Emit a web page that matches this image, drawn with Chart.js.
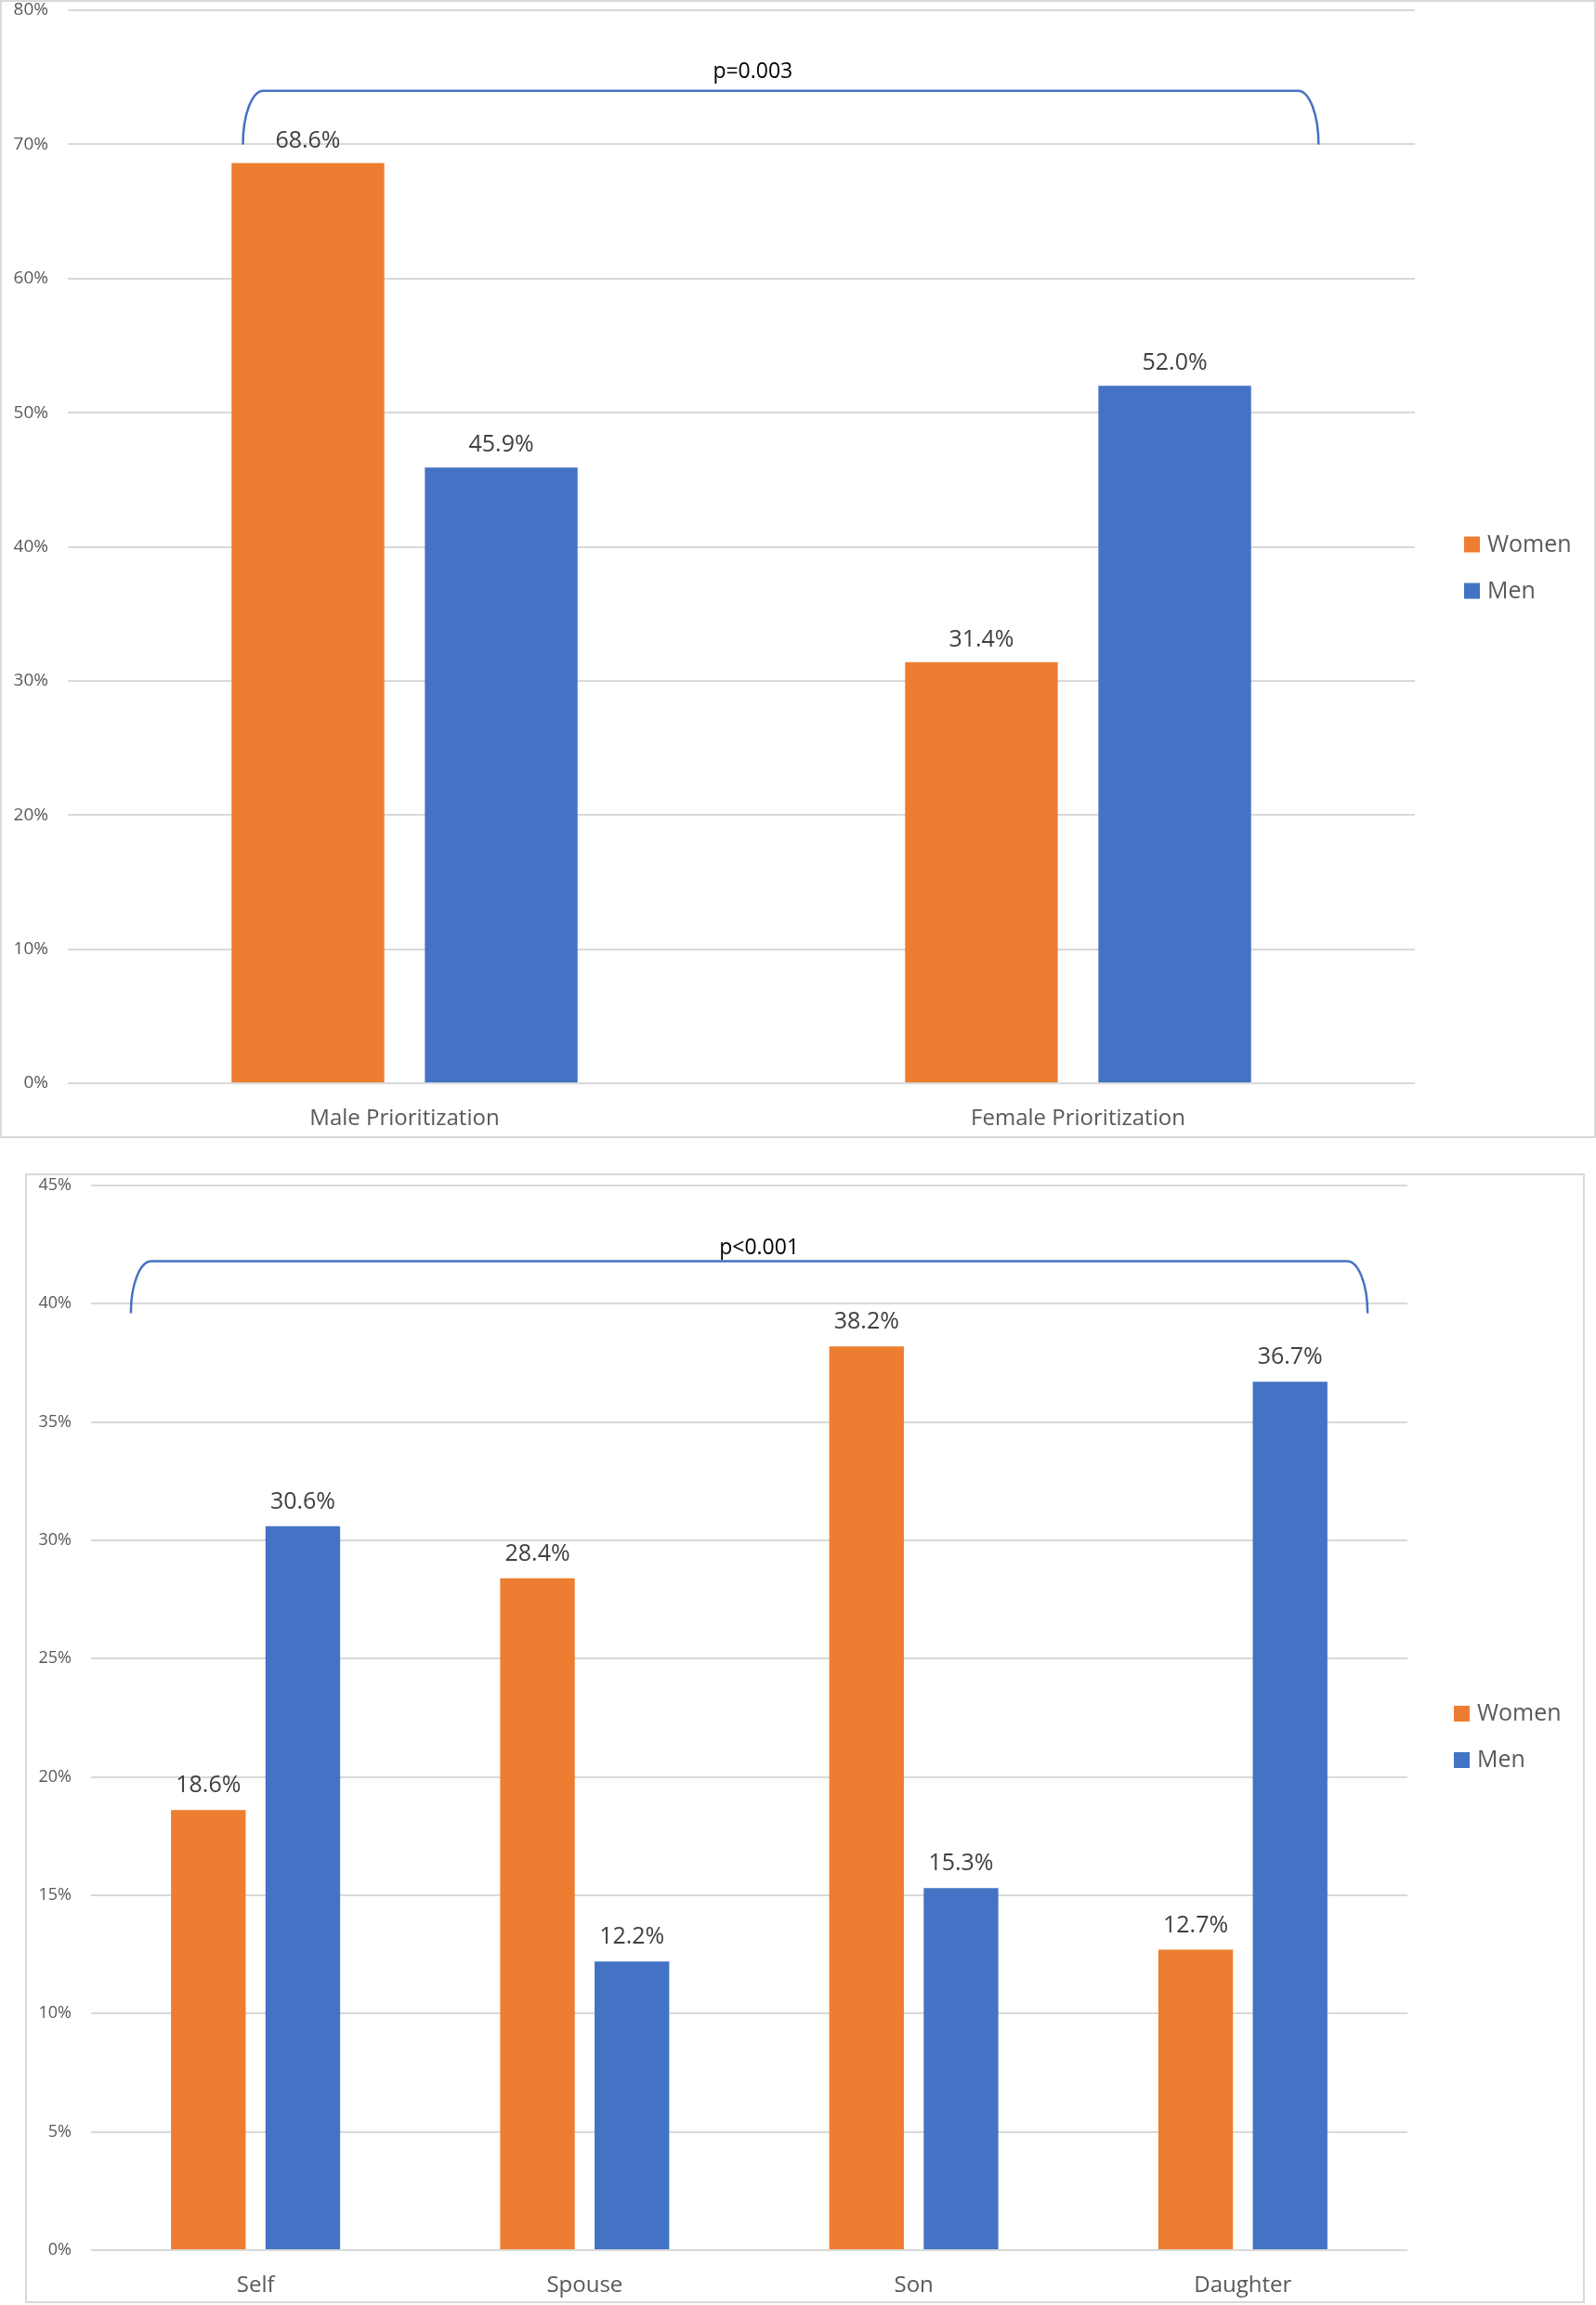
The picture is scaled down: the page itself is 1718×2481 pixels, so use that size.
<!DOCTYPE html>
<html>
<head>
<meta charset="utf-8">
<script src="https://cdn.jsdelivr.net/npm/chart.js@4.4.1/dist/chart.umd.min.js"></script>
<style>
body { margin: 0; background: #fff; width: 1718px; height: 2481px; position: relative; overflow: hidden; }
.frame { position: absolute; border: 2px solid #d9d9d9; box-sizing: border-box; }
canvas { position: absolute; }
</style>
</head>
<body>
<div class="frame" style="left:0;top:0;width:1718px;height:1225px"></div>
<canvas id="prioritization" width="1718" height="1225" style="left:0;top:0"></canvas>
<div class="frame" style="left:27px;top:1263px;width:1679px;height:1216px"></div>
<canvas id="relation" width="1679" height="1216" style="left:27px;top:1263px"></canvas>
<script>
// chart data
const seriesNames = ["Women", "Men"];
const seriesColors = ["#ED7D31", "#4472C4"];

const prioCategories = ["Male Prioritization", "Female Prioritization"];
const prioWomen = [68.6, 31.4];
const prioMen = [45.9, 52.0];
const prioAxis = [0, 80, 10]; // min, max, step (%)

const relCategories = ["Self", "Spouse", "Son", "Daughter"];
const relWomen = [18.6, 28.4, 38.2, 12.7];
const relMen = [30.6, 12.2, 15.3, 36.7];
const relAxis = [0, 45, 5];

const FONT = "'Open Sans', 'Noto Sans', sans-serif";

// value labels above each bar
const barLabels = {
    id: "barLabels",
    afterDatasetsDraw(chart, args, opts) {
        const ctx = chart.ctx;
        ctx.save();
        ctx.font = "25px " + FONT;
        ctx.fillStyle = "#404040";
        ctx.textAlign = "center";
        ctx.textBaseline = "alphabetic";
        chart.data.datasets.forEach((ds, i) => {
            chart.getDatasetMeta(i).data.forEach((bar, j) => {
                ctx.fillText(ds.data[j].toFixed(1) + "%", bar.x, bar.y - opts.gap);
            });
        });
        ctx.restore();
    }
};

// significance bracket + p value
const bracket = {
    id: "bracket",
    afterDatasetsDraw(chart, args, opts) {
        const x = chart.scales.x, y = chart.scales.y, ctx = chart.ctx;
        const x0 = x.getPixelForValue(opts.from), x1 = x.getPixelForValue(opts.to);
        const yLow = y.getPixelForValue(opts.low), yHigh = y.getPixelForValue(opts.high);
        const rx = 22, ry = yLow - yHigh;
        ctx.save();
        ctx.strokeStyle = "#4472C4";
        ctx.lineWidth = 2.5;
        ctx.beginPath();
        ctx.ellipse(x0 + rx, yLow, rx, ry, 0, Math.PI, Math.PI * 1.5);
        ctx.lineTo(x1 - rx, yHigh);
        ctx.ellipse(x1 - rx, yLow, rx, ry, 0, Math.PI * 1.5, Math.PI * 2);
        ctx.stroke();
        ctx.font = "23px " + FONT;
        ctx.fillStyle = "#000";
        ctx.textAlign = "center";
        ctx.textBaseline = "middle";
        ctx.fillText(opts.text, x.getPixelForValue(opts.textAt[0]), y.getPixelForValue(opts.textAt[1]));
        ctx.restore();
    }
};

// legend on the right, like excel
const sideLegend = {
    id: "sideLegend",
    afterDraw(chart, args, opts) {
        const ctx = chart.ctx;
        const left = chart.chartArea.right + opts.offset;
        const mid = chart.height / 2;
        ctx.save();
        ctx.font = "25px " + FONT;
        ctx.textBaseline = "middle";
        chart.data.datasets.forEach((ds, i) => {
            const cy = mid + (i - 0.5) * 50 - 2;
            ctx.fillStyle = ds.backgroundColor;
            ctx.fillRect(left, cy - 8, 17, 17);
            ctx.fillStyle = "#595959";
            ctx.fillText(ds.label, left + 25, cy + 1);
        });
        ctx.restore();
    }
};

function makeChart(canvas, cats, women, men, axis, o) {
    return new Chart(canvas, {
        type: "bar",
        data: {
            labels: cats,
            datasets: [
                { label: seriesNames[0], data: women, backgroundColor: seriesColors[0] },
                { label: seriesNames[1], data: men, backgroundColor: seriesColors[1] }
            ]
        },
        options: {
            responsive: false,
            animation: false,
            categoryPercentage: 0.574,
            barPercentage: 0.79,
            layout: { padding: o.padding },
            scales: {
                x: {
                    grid: { display: false, drawTicks: false },
                    border: { display: false },
                    ticks: { color: "#595959", font: { family: FONT, size: 24 }, padding: o.xPad },
                    afterFit(s) { s.height = o.xHeight; s.paddingLeft = 0; s.paddingRight = 0; }
                },
                y: {
                    min: axis[0], max: axis[1],
                    grid: { color: "#d9d9d9", lineWidth: 2, drawTicks: false },
                    border: { display: false },
                    ticks: {
                        stepSize: axis[2],
                        color: "#595959",
                        font: { family: FONT, size: o.tickSize },
                        padding: 21,
                        callback: v => v + "%"
                    },
                    afterFit(s) { s.width = o.yWidth; s.paddingTop = 0; s.paddingBottom = 0; }
                }
            },
            plugins: {
                legend: { display: false },
                tooltip: { enabled: false },
                barLabels: { gap: o.labelGap },
                bracket: o.bracket,
                sideLegend: { offset: o.legendOffset }
            }
        },
        plugins: [barLabels, bracket, sideLegend]
    });
}

makeChart(document.getElementById("prioritization"), prioCategories, prioWomen, prioMen, prioAxis, {
    padding: { left: 0, top: 11, right: 195, bottom: 3 },
    xHeight: 56, xPad: 24, yWidth: 73, tickSize: 19, labelGap: 17, legendOffset: 53,
    bracket: { from: -0.24, to: 1.357, low: 70, high: 74, text: "p=0.003", textAt: [0.517, 75.4] }
});

makeChart(document.getElementById("relation"), relCategories, relWomen, relMen, relAxis, {
    padding: { left: 0, top: 13, right: 191, bottom: 1 },
    xHeight: 56, xPad: 24, yWidth: 71, tickSize: 18, labelGap: 19, legendOffset: 50,
    bracket: { from: -0.379, to: 3.379, low: 39.6, high: 41.8, text: "p<0.001", textAt: [1.53, 42.36] }
});
</script>
</body>
</html>
